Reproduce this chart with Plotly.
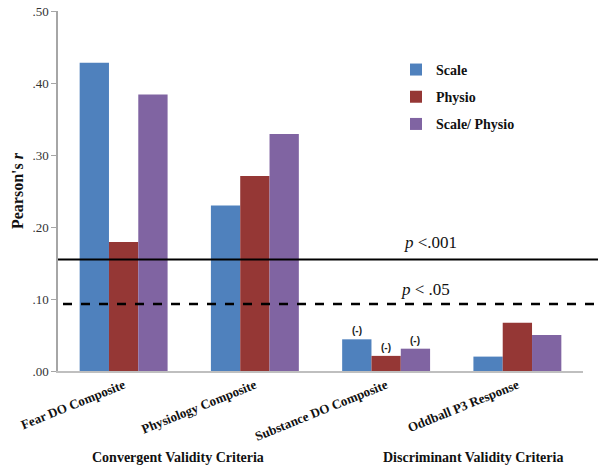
import plotly.graph_objects as go

categories = ["Fear DO Composite", "Physiology Composite", "Substance DO Composite", "Oddball P3 Response"]
series_names = ["Scale", "Physio", "Scale/ Physio"]
scale_vals = [0.428, 0.230, 0.044, 0.020]
physio_vals = [0.179, 0.271, 0.021, 0.067]
combo_vals = [0.384, 0.329, 0.031, 0.050]
neg_flags = [[False, False, True, False], [False, False, True, False], [False, False, True, False]]
ytick_vals = [0, 0.1, 0.2, 0.3, 0.4, 0.5]
ytick_text = [".00", ".10", ".20", ".30", ".40", ".50"]
p001 = 0.155
p05 = 0.093
group_labels = ["Convergent Validity Criteria", "Discriminant Validity Criteria"]

colors = ["#4F81BD", "#953735", "#8064A2"]
serif = "Liberation Serif"

# plot area in page pixels
PL, PR, PT, PB = 58, 583, 11, 371.5
PW, PH = PR - PL, PB - PT
W, H = 604, 470


def px(x):
    return (x - PL) / PW


def py(y):
    return (PB - y) / PH


fig = go.Figure()
all_vals = [scale_vals, physio_vals, combo_vals]
for i, (name, vals) in enumerate(zip(series_names, all_vals)):
    fig.add_trace(go.Bar(x=list(range(len(categories))), y=vals, name="<b>" + name + "</b>",
                         marker_color=colors[i], marker_line_width=0, legendgroup=name))

bargap = 0.33
bw = (1 - bargap) / 3
annotations = []
for s, vals in enumerate(all_vals):
    for c, v in enumerate(vals):
        if neg_flags[s][c]:
            annotations.append(dict(x=c + (s - 1) * bw, y=v, xref="x", yref="y", text="<b>(-)</b>",
                                    showarrow=False, yanchor="bottom", xanchor="center", yshift=1,
                                    font=dict(family="Liberation Sans", size=10, color="#222")))

annotations += [
    dict(x=px(430), y=py(243), xref="paper", yref="paper", text="<i>p</i> <.001", showarrow=False,
         xanchor="center", yanchor="middle", font=dict(family=serif, size=17, color="#111")),
    dict(x=px(425), y=py(290), xref="paper", yref="paper", text="<i>p</i> < .05", showarrow=False,
         xanchor="center", yanchor="middle", font=dict(family=serif, size=17, color="#111")),
    dict(x=px(178), y=py(458), xref="paper", yref="paper", text="<b>" + group_labels[0] + "</b>",
         showarrow=False, xanchor="center", yanchor="middle", font=dict(family=serif, size=14, color="#111")),
    dict(x=px(473), y=py(458), xref="paper", yref="paper", text="<b>" + group_labels[1] + "</b>",
         showarrow=False, xanchor="center", yanchor="middle", font=dict(family=serif, size=14, color="#111")),
]

shapes = [
    dict(type="line", xref="paper", yref="y", x0=0, x1=px(598), y0=p001, y1=p001,
         line=dict(color="black", width=2)),
    dict(type="line", xref="paper", yref="y", x0=px(63), x1=px(598), y0=p05, y1=p05,
         line=dict(color="black", width=2.5, dash="dash")),
]

fig.update_layout(
    width=W, height=H,
    margin=dict(l=PL, r=W - PR, t=PT, b=H - PB, autoexpand=False),
    paper_bgcolor="white", plot_bgcolor="white",
    barmode="group", bargap=bargap, bargroupgap=0,
    showlegend=True,
    legend=dict(x=px(396), y=py(54), xanchor="left", yanchor="top",
                font=dict(family=serif, size=14, color="#111"), tracegroupgap=6,
                itemwidth=30, bgcolor="rgba(0,0,0,0)"),
    annotations=annotations,
    shapes=shapes,
    xaxis=dict(range=[-0.5, 3.5], showline=True, linecolor="#BFBFBF", linewidth=1.5,
               ticks="", tickangle=-22, automargin=False,
               tickvals=list(range(4)), ticktext=["<b>" + c + "</b>" for c in categories],
               tickfont=dict(family=serif, size=13, color="#111"), showgrid=False, zeroline=False),
    yaxis=dict(range=[0, 0.5], tickvals=ytick_vals, ticktext=ytick_text, showline=True, automargin=False,
               linecolor="#A6A6A6", linewidth=1.5, ticks="outside", ticklen=5, tickcolor="#A6A6A6",
               tickfont=dict(family=serif, size=13, color="#333"), showgrid=False, zeroline=False,
               title=dict(text="<b>Pearson's <i>r</i></b>", font=dict(family=serif, size=16, color="#111"),
                          standoff=5)),
)

fig.write_html("out.html", config={"displayModeBar": False},
               post_script="document.body.style.margin='0';document.body.style.overflow='hidden';")
